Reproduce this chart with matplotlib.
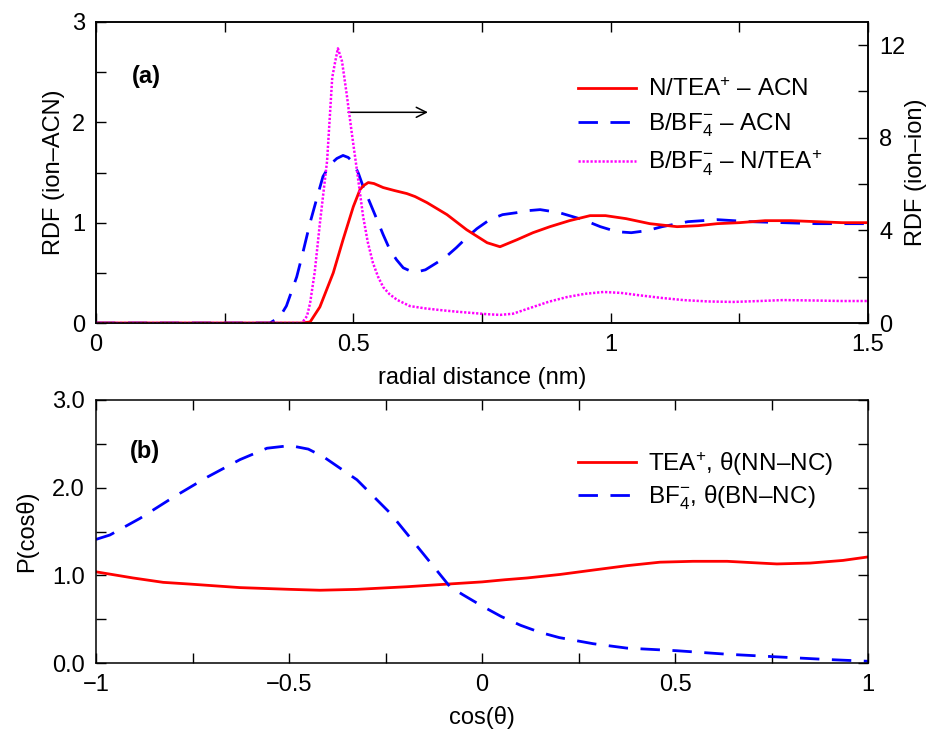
import matplotlib
matplotlib.use("Agg")
import matplotlib.pyplot as plt
from matplotlib.ticker import MultipleLocator, FixedLocator

plt.rcParams['font.family'] = ['Liberation Sans', 'DejaVu Sans']
plt.rcParams['mathtext.fontset'] = 'custom'
plt.rcParams['mathtext.rm'] = 'Liberation Sans'
plt.rcParams['mathtext.it'] = 'Liberation Sans:italic'
plt.rcParams['mathtext.bf'] = 'Liberation Sans:bold'

# ---- panel (a): RDFs ----
r_cat_acn = [0, 0.40, 0.416, 0.435, 0.461, 0.48, 0.50, 0.513, 0.52, 0.529, 0.54, 0.558, 0.58,
             0.604, 0.62, 0.643, 0.682, 0.72, 0.76, 0.785, 0.818, 0.849, 0.882, 0.92, 0.96,
             0.99, 1.03, 1.076, 1.129, 1.17, 1.207, 1.25, 1.30, 1.35, 1.40, 1.45, 1.5]
g_cat_acn = [0, 0, 0.01, 0.16, 0.50, 0.83, 1.16, 1.33, 1.37, 1.40, 1.39, 1.35, 1.32,
             1.29, 1.26, 1.20, 1.08, 0.93, 0.80, 0.76, 0.83, 0.90, 0.96, 1.02, 1.07,
             1.07, 1.04, 0.99, 0.96, 0.97, 0.99, 1.00, 1.02, 1.02, 1.01, 1.00, 1.0]

r_an_acn = [0, 0.338, 0.357, 0.37, 0.39, 0.40, 0.416, 0.43, 0.441, 0.455, 0.468, 0.48, 0.49,
            0.50, 0.51, 0.519, 0.533, 0.546, 0.558, 0.571, 0.584, 0.597, 0.61, 0.624, 0.64,
            0.662, 0.68, 0.70, 0.72, 0.74, 0.765, 0.79, 0.818, 0.84, 0.863, 0.90, 0.946,
            0.98, 1.012, 1.04, 1.07, 1.10, 1.15, 1.207, 1.27, 1.335, 1.40, 1.5]
g_an_acn = [0, 0, 0.06, 0.17, 0.46, 0.66, 1.0, 1.26, 1.46, 1.58, 1.64, 1.67, 1.65,
            1.60, 1.49, 1.36, 1.19, 1.03, 0.88, 0.73, 0.63, 0.55, 0.52, 0.51, 0.53,
            0.60, 0.66, 0.75, 0.85, 0.94, 1.03, 1.08, 1.10, 1.12, 1.13, 1.10, 1.03,
            0.96, 0.91, 0.90, 0.92, 0.96, 1.01, 1.03, 1.01, 1.00, 0.99, 0.99]

r_an_cat = [0, 0.40, 0.41, 0.416, 0.425, 0.435, 0.449, 0.459, 0.464, 0.470, 0.478, 0.487,
            0.497, 0.507, 0.519, 0.528, 0.538, 0.548, 0.558, 0.57, 0.585, 0.61, 0.64, 0.668,
            0.70, 0.733, 0.76, 0.785, 0.81, 0.849, 0.88, 0.915, 0.95, 0.986, 1.02, 1.051,
            1.10, 1.141, 1.19, 1.238, 1.29, 1.335, 1.40, 1.45, 1.5]
g_an_cat = [0, 0, 0.3, 0.86, 2.2, 4.3, 7.0, 10.6, 11.2, 11.86, 11.3, 9.9,
            8.2, 6.6, 4.6, 3.5, 2.6, 2.0, 1.55, 1.25, 1.0, 0.73, 0.63, 0.56,
            0.49, 0.43, 0.38, 0.35, 0.40, 0.69, 0.92, 1.12, 1.26, 1.34, 1.30, 1.21,
            1.08, 0.99, 0.93, 0.91, 0.95, 0.99, 0.97, 0.95, 0.95]

# ---- panel (b): orientation distributions ----
cos_tea = [-1, -0.904, -0.826, -0.756, -0.627, -0.497, -0.42, -0.324, -0.194, -0.09, 0.0,
           0.06, 0.117, 0.202, 0.288, 0.375, 0.461, 0.547, 0.635, 0.72, 0.764, 0.85, 0.935, 1.0]
p_tea = [1.04, 0.97, 0.92, 0.90, 0.86, 0.84, 0.83, 0.84, 0.87, 0.90, 0.925,
         0.95, 0.97, 1.01, 1.06, 1.11, 1.15, 1.16, 1.16, 1.14, 1.13, 1.14, 1.17, 1.21]

cos_bf4 = [-1, -0.964, -0.886, -0.80, -0.712, -0.627, -0.557, -0.497, -0.45, -0.41, -0.324,
           -0.238, -0.153, -0.083, -0.05, 0.0, 0.05, 0.10, 0.15, 0.20, 0.288, 0.375, 0.505,
           0.635, 0.764, 0.894, 1.0]
p_bf4 = [1.41, 1.46, 1.65, 1.89, 2.12, 2.32, 2.45, 2.48, 2.44, 2.35, 2.09,
         1.71, 1.25, 0.87, 0.78, 0.65, 0.53, 0.43, 0.35, 0.29, 0.22, 0.17, 0.14,
         0.10, 0.07, 0.04, 0.02]

RED = '#ff0000'
BLUE = '#0000ff'
MAG = '#ff00ff'
FS = 17
LFS = 17.5
DASH = (7, 4.5)

fig = plt.figure(figsize=(9.3, 7.3), dpi=100)
ax1 = fig.add_axes([96/930, 1-323/730, 772/930, 301/730])
ax2 = fig.add_axes([96/930, 1-663/730, 772/930, 263/730])


def style(ax, right=True):
    ax.tick_params(which='both', direction='in', length=7, width=1, labelsize=FS, pad=8,
                   top=True, right=right)
    for s in ax.spines.values():
        s.set_linewidth(1.1)


# panel (a)
l1, = ax1.plot(r_cat_acn, g_cat_acn, color=RED, lw=2.0, label=r'N/TEA$^{+}$ – ACN', zorder=4)
l2, = ax1.plot(r_an_acn, g_an_acn, color=BLUE, lw=2.0, dashes=DASH,
               label=r'B/BF$_{4}^{-}$ – ACN', zorder=3)
ax1b = ax1.twinx()
ax1b.set_position(ax1.get_position())
l3, = ax1b.plot(r_an_cat, g_an_cat, color=MAG, lw=1.8, dashes=(0.9, 0.7),
                label=r'B/BF$_{4}^{-}$ – N/TEA$^{+}$')
ax1.set_xlim(0, 1.5)
ax1.set_ylim(0, 3)
ax1b.set_ylim(0, 13)
ax1.xaxis.set_major_locator(FixedLocator([0, 0.5, 1.0, 1.5]))
ax1.xaxis.set_major_formatter(plt.FuncFormatter(lambda v, p: {0: '0', 0.5: '0.5', 1.0: '1', 1.5: '1.5'}.get(round(v, 2), '')))
ax1.xaxis.set_minor_locator(MultipleLocator(0.25))
ax1.yaxis.set_major_locator(MultipleLocator(1))
ax1.yaxis.set_minor_locator(MultipleLocator(0.5))
ax1b.yaxis.set_major_locator(MultipleLocator(4))
ax1b.yaxis.set_minor_locator(MultipleLocator(2))
style(ax1, right=False)
ax1b.tick_params(which='both', direction='in', length=7, width=1, labelsize=FS, pad=8)
for s in ax1b.spines.values():
    s.set_linewidth(1.1)
ax1.set_xlabel('radial distance (nm)', fontsize=FS, labelpad=8)
ax1.set_ylabel('RDF (ion–ACN)', fontsize=FS, labelpad=5)
ax1b.set_ylabel('RDF (ion–ion)', fontsize=FS, labelpad=0)
ax1.text(0.046, 0.82, '(a)', transform=ax1.transAxes, fontsize=FS, fontweight='bold',
         va='center', ha='left')
ax1.annotate('', xy=(0.645, 2.10), xytext=(0.49, 2.10),
             arrowprops=dict(arrowstyle='->', color='black', lw=1.1,
                             mutation_scale=18, shrinkA=0, shrinkB=0))
ax1b.legend(handles=[l1, l2, l3], loc='upper left', bbox_to_anchor=(0.624, 0.812),
            frameon=False, fontsize=LFS, handlelength=2.4, handletextpad=0.5,
            borderpad=0, borderaxespad=0, labelspacing=0.4)

# panel (b)
m1, = ax2.plot(cos_tea, p_tea, color=RED, lw=2.0, label=r'TEA$^{+}$, θ(NN–NC)')
m2, = ax2.plot(cos_bf4, p_bf4, color=BLUE, lw=2.0, dashes=DASH,
               label=r'BF$_{4}^{-}$, θ(BN–NC)')
ax2.set_xlim(-1, 1)
ax2.set_ylim(0, 3)
ax2.xaxis.set_major_locator(FixedLocator([-1, -0.5, 0, 0.5, 1]))
ax2.xaxis.set_major_formatter(plt.FuncFormatter(lambda v, p: {-1.0: '−1', -0.5: '−0.5', 0.0: '0', 0.5: '0.5', 1.0: '1'}.get(round(v, 2), '')))
ax2.xaxis.set_minor_locator(MultipleLocator(0.25))
ax2.yaxis.set_major_locator(MultipleLocator(1))
ax2.yaxis.set_major_formatter(plt.FormatStrFormatter('%.1f'))
ax2.yaxis.set_minor_locator(MultipleLocator(0.5))
style(ax2)
ax2.set_xlabel('cos(θ)', fontsize=FS, labelpad=7)
ax2.set_ylabel('P(cosθ)', fontsize=FS, labelpad=10)
ax2.text(0.044, 0.806, '(b)', transform=ax2.transAxes, fontsize=FS, fontweight='bold',
         va='center', ha='left')
ax2.legend(handles=[m1, m2], loc='upper left', bbox_to_anchor=(0.624, 0.81),
           frameon=False, fontsize=LFS, handlelength=2.4, handletextpad=0.5,
           borderpad=0, borderaxespad=0, labelspacing=0.25)

fig.savefig('out.png', dpi=100)
